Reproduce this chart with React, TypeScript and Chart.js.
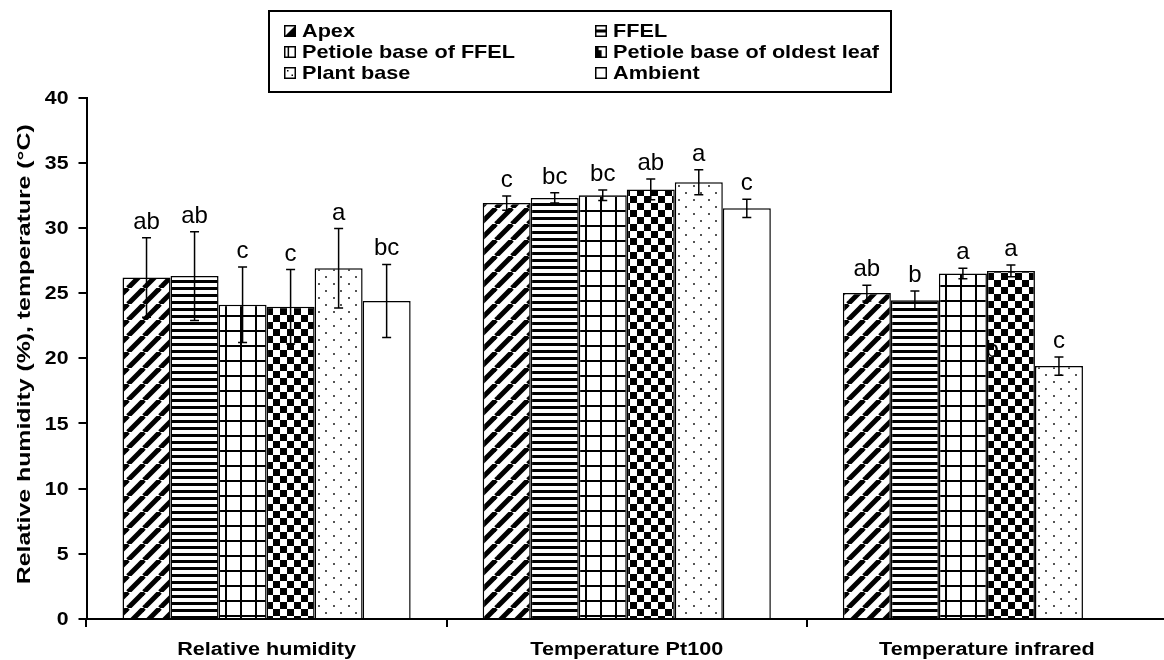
import React, { useEffect, useRef } from "react";
import { Chart, registerables } from "chart.js";
Chart.register(...registerables);

const categories = ["Relative humidity", "Temperature Pt100", "Temperature infrared"];
const seriesNames = ["Apex", "FFEL", "Petiole base of FFEL", "Petiole base of oldest leaf", "Plant base", "Ambient"];
const patternKinds = ["diag", "hlines", "grid", "checker", "dots", "plain"];

const apex = [26.2, 31.9, 25.0];
const ffel = [26.3, 32.3, 24.45];
const petioleFfel = [24.1, 32.5, 26.5];
const petioleOldest = [23.95, 32.95, 26.7];
const plantBase = [26.9, 33.5, 19.4];
const ambient = [24.4, 31.5, null];

const apexErr = [3.05, 0.55, 0.6];
const ffelErr = [3.4, 0.4, 0.7];
const petioleFfelErr = [2.9, 0.4, 0.4];
const petioleOldestErr = [2.85, 0.8, 0.45];
const plantBaseErr = [3.05, 0.95, 0.7];
const ambientErr = [2.8, 0.7, null];

const apexLetters = ["ab", "c", "ab"];
const ffelLetters = ["ab", "bc", "b"];
const petioleFfelLetters = ["c", "bc", "a"];
const petioleOldestLetters = ["c", "ab", "a"];
const plantBaseLetters = ["a", "a", "c"];
const ambientLetters = ["bc", "c", null];

// stray letter seen on the oldest-leaf bar of the infrared group
const strayLetter = "b";
const strayValue = 20.1;

const yTicks = [0, 5, 10, 15, 20, 25, 30, 35, 40];
const yTitle = "Relative humidity (%), temperature (°C)";

const values = [apex, ffel, petioleFfel, petioleOldest, plantBase, ambient];
const errors = [apexErr, ffelErr, petioleFfelErr, petioleOldestErr, plantBaseErr, ambientErr];
const letters = [apexLetters, ffelLetters, petioleFfelLetters, petioleOldestLetters, plantBaseLetters, ambientLetters];

const FONT = "'Liberation Sans', Arial, sans-serif";

function makePattern(ctx: CanvasRenderingContext2D, kind: string): CanvasPattern | string {
  const c = document.createElement("canvas");
  let g: CanvasRenderingContext2D;
  if (kind === "diag") {
    c.width = 16; c.height = 16;
    g = c.getContext("2d")!;
    g.fillStyle = "#fff"; g.fillRect(0, 0, 16, 16);
    g.strokeStyle = "#000"; g.lineWidth = 5;
    for (const o of [-16, 0, 16]) {
      g.beginPath(); g.moveTo(o, 16); g.lineTo(o + 16, 0); g.stroke();
    }
  } else if (kind === "hlines") {
    c.width = 8; c.height = 7;
    g = c.getContext("2d")!;
    g.fillStyle = "#fff"; g.fillRect(0, 0, 8, 7);
    g.fillStyle = "#000"; g.fillRect(0, 0, 8, 3);
  } else if (kind === "grid") {
    c.width = 15; c.height = 15;
    g = c.getContext("2d")!;
    g.fillStyle = "#fff"; g.fillRect(0, 0, 15, 15);
    g.fillStyle = "#000"; g.fillRect(0, 0, 15, 2); g.fillRect(0, 0, 2, 15);
  } else if (kind === "checker") {
    c.width = 14; c.height = 14;
    g = c.getContext("2d")!;
    g.fillStyle = "#fff"; g.fillRect(0, 0, 14, 14);
    g.fillStyle = "#000"; g.fillRect(0, 0, 7, 7); g.fillRect(7, 7, 7, 7);
  } else if (kind === "dots") {
    c.width = 15; c.height = 14;
    g = c.getContext("2d")!;
    g.fillStyle = "#fff"; g.fillRect(0, 0, 15, 14);
    g.fillStyle = "#555"; g.fillRect(3, 3, 2, 2); g.fillRect(10, 10, 2, 2);
  } else {
    return "#ffffff";
  }
  return ctx.createPattern(c, "repeat")!;
}

function drawLegendIcon(ctx: CanvasRenderingContext2D, kind: string, x: number, y: number, s: number) {
  ctx.save();
  ctx.fillStyle = "#fff";
  ctx.fillRect(x, y, s, s);
  ctx.fillStyle = "#000";
  if (kind === "diag") {
    ctx.beginPath(); ctx.moveTo(x + s, y); ctx.lineTo(x + s, y + s); ctx.lineTo(x, y + s); ctx.closePath(); ctx.fill();
  } else if (kind === "hlines") {
    ctx.fillRect(x, y + s / 2 - 1.5, s, 3);
  } else if (kind === "grid") {
    ctx.fillRect(x + s * 0.3, y, 1.5, s);
  } else if (kind === "checker") {
    ctx.fillRect(x, y + s * 0.35, s * 0.55, s * 0.65);
    ctx.fillRect(x, y, s * 0.3, s);
  } else if (kind === "dots") {
    ctx.fillRect(x + 3, y + 3, 1.5, 1.5);
    ctx.fillRect(x + s - 4.5, y + s - 4.5, 1.5, 1.5);
  }
  ctx.strokeStyle = "#000"; ctx.lineWidth = 1.5;
  ctx.strokeRect(x + 0.75, y + 0.75, s - 1.5, s - 1.5);
  ctx.restore();
}

// text drawn with a horizontal stretch (the figure's bold font is wide)
function wideText(ctx: CanvasRenderingContext2D, text: string, x: number, y: number, size: number, sx: number, align: CanvasTextAlign, baseline: CanvasTextBaseline, rotate = 0) {
  ctx.save();
  ctx.translate(x, y);
  if (rotate) ctx.rotate(rotate);
  ctx.scale(sx, 1);
  ctx.font = `bold ${size}px ${FONT}`;
  ctx.fillStyle = "#000";
  ctx.textAlign = align;
  ctx.textBaseline = baseline;
  ctx.fillText(text, 0, 0);
  ctx.restore();
}

const overlayPlugin = {
  id: "overlay",
  afterDraw(chart: any) {
    const ctx: CanvasRenderingContext2D = chart.ctx;
    const ys = chart.scales.y;
    const xs = chart.scales.x;
    const ca = chart.chartArea;
    ctx.save();
    ctx.strokeStyle = "#000";
    ctx.lineWidth = 1.5;
    ctx.fillStyle = "#000";
    ctx.font = `24px ${FONT}`;
    ctx.textAlign = "center";
    ctx.textBaseline = "alphabetic";
    chart.data.datasets.forEach((ds: any, i: number) => {
      const meta = chart.getDatasetMeta(i);
      meta.data.forEach((bar: any, j: number) => {
        const v = ds.data[j];
        if (v == null) return;
        const e = errors[i][j] as number;
        const top = ys.getPixelForValue(v + e);
        const bot = ys.getPixelForValue(v - e);
        ctx.beginPath();
        ctx.moveTo(bar.x, top); ctx.lineTo(bar.x, bot);
        ctx.moveTo(bar.x - 4.5, top); ctx.lineTo(bar.x + 4.5, top);
        ctx.moveTo(bar.x - 4.5, bot); ctx.lineTo(bar.x + 4.5, bot);
        ctx.stroke();
        const L = letters[i][j];
        if (L) ctx.fillText(L, bar.x, top - 9);
      });
    });
    // stray letter on the oldest-leaf bar of the last group
    const sBar = chart.getDatasetMeta(3).data[2];
    if (sBar) {
      ctx.textAlign = "left";
      ctx.fillText(strayLetter, sBar.x - sBar.width / 2 - 1.5, ys.getPixelForValue(strayValue));
    }
    // y tick labels
    yTicks.forEach((v) => {
      wideText(ctx, String(v), 68.5, ys.getPixelForValue(v) + 1, 19, 1.12, "right", "middle");
    });
    // category labels
    categories.forEach((c, i) => {
      wideText(ctx, c, xs.getPixelForTick(i), 650, 18, 1.2, "center", "middle");
    });
    // y title
    wideText(ctx, yTitle, 25, (ca.top + ca.bottom) / 2 - 4, 18, 1.38, "center", "middle", -Math.PI / 2);
    // legend
    const bx = 269, by = 11, bw = 622, bh = 81;
    ctx.fillStyle = "#fff";
    ctx.fillRect(bx, by, bw, bh);
    ctx.strokeStyle = "#000";
    ctx.lineWidth = 2;
    ctx.strokeRect(bx, by, bw, bh);
    seriesNames.forEach((name, k) => {
      const col = k % 2, row = Math.floor(k / 2);
      const ix = col === 0 ? 284 : 595;
      const cy = 31 + row * 21;
      drawLegendIcon(ctx, patternKinds[k], ix, cy - 6, 12);
      wideText(ctx, name, ix + 18, cy + 1, 19, 1.14, "left", "middle");
    });
    ctx.restore();
  },
};

export default function App() {
  const ref = useRef<HTMLCanvasElement | null>(null);
  useEffect(() => {
    const canvas = ref.current!;
    const ctx = canvas.getContext("2d")!;
    const datasets = seriesNames.map((name, i) => ({
      label: name,
      data: values[i],
      backgroundColor: makePattern(ctx, patternKinds[i]),
      borderColor: "#000",
      borderWidth: 1.5,
      barPercentage: 1,
      categoryPercentage: 0.8,
    }));
    const chart = new Chart(canvas, {
      type: "bar",
      data: { labels: categories, datasets },
      options: {
        responsive: false,
        animation: false,
        devicePixelRatio: 1,
        layout: { padding: { top: 97.5, left: 0, right: 1, bottom: 0 } },
        plugins: { legend: { display: false }, tooltip: { enabled: false } },
        scales: {
          x: {
            grid: { display: true, drawOnChartArea: false, drawTicks: true, tickLength: 8, color: "#000", lineWidth: 2, offset: true },
            border: { display: true, color: "#000", width: 2 },
            ticks: { color: "rgba(0,0,0,0)", font: { family: FONT, size: 18, weight: "bold" }, padding: 12, maxRotation: 0, autoSkip: false },
            afterFit: (s: any) => { s.height = 41; },
          },
          y: {
            min: 0,
            max: 40,
            afterBuildTicks: (s: any) => { s.ticks = yTicks.map((v) => ({ value: v })); },
            grid: { display: true, drawOnChartArea: false, drawTicks: true, tickLength: 8, color: "#000", lineWidth: 2 },
            border: { display: true, color: "#000", width: 2 },
            ticks: { color: "rgba(0,0,0,0)", font: { family: FONT, size: 18, weight: "bold" }, padding: 9 },
            afterFit: (s: any) => { s.width = 86.5; },
          },
        },
      },
      plugins: [overlayPlugin],
    });
    return () => chart.destroy();
  }, []);
  return (
    <div style={{ position: "fixed", left: 0, top: 0, width: 1164, height: 660, overflow: "hidden", background: "#fff" }}>
      <canvas ref={ref} width={1168} height={660} style={{ display: "block" }} />
    </div>
  );
}
